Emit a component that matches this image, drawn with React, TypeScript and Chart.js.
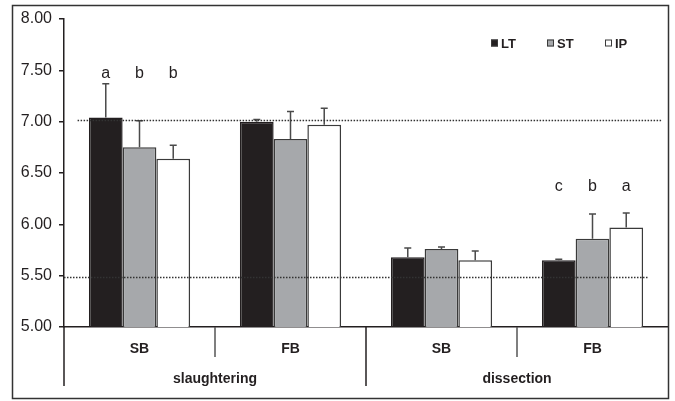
import React, { useEffect, useRef } from 'react';
import { Chart, registerables } from 'chart.js';

Chart.register(...registerables);

// ---- data ----
const categories = ['SB', 'FB', 'SB', 'FB'];
const groupLabels = ['slaughtering', 'dissection'];
const groupOf = [0, 0, 1, 1];
const seriesNames = ['LT', 'ST', 'IP'];
const ltValues = [7.04, 7.0, 5.68, 5.65];
const stValues = [6.75, 6.83, 5.76, 5.86];
const ipValues = [6.64, 6.97, 5.65, 5.97];
const ltErrors = [0.33, 0.02, 0.09, 0.01];
const stErrors = [0.26, 0.27, 0.02, 0.24];
const ipErrors = [0.13, 0.16, 0.09, 0.14];
const ltLetters = ['a', '', '', 'c'];
const stLetters = ['b', '', '', 'b'];
const ipLetters = ['b', '', '', 'a'];
const letterLevels = [7.43, null, null, 6.32];
const refLineValues = [7.02, 5.49];
const refLineFrom = [-0.41, -0.5];
const refLineTo = [3.46, 3.37];
const yTickMin = 5;
const yTickMax = 8;
const yTickStep = 0.5;

const FONT = "'Liberation Sans', Arial, Helvetica, sans-serif";
const INK = '#231f20';
const LINE = '#3a3a3a';

const errorsBySeries = [ltErrors, stErrors, ipErrors];
const lettersBySeries = [ltLetters, stLetters, ipLetters];

const decorPlugin = {
  id: 'decor',
  afterDatasetsDraw(chart: any) {
    const { ctx } = chart;
    const xs = chart.scales.x;
    const ys = chart.scales.y;
    ctx.save();
    // error bars
    chart.data.datasets.forEach((ds: any, d: number) => {
      const meta = chart.getDatasetMeta(d);
      meta.data.forEach((bar: any, i: number) => {
        const v = ds.data[i];
        const e = errorsBySeries[d][i];
        const y0 = ys.getPixelForValue(v);
        const y1 = ys.getPixelForValue(v + e);
        ctx.strokeStyle = '#4a4a4a';
        ctx.lineWidth = 1.5;
        ctx.beginPath();
        ctx.moveTo(bar.x, y0);
        ctx.lineTo(bar.x, y1);
        ctx.moveTo(bar.x - 3.5, y1);
        ctx.lineTo(bar.x + 3.5, y1);
        ctx.stroke();
      });
    });
    // dotted reference lines
    ctx.strokeStyle = '#333';
    ctx.lineWidth = 1.5;
    ctx.setLineDash([1.5, 1.5]);
    refLineValues.forEach((v, k) => {
      const y = Math.round(ys.getPixelForValue(v)) + 0.5;
      ctx.beginPath();
      ctx.moveTo(xs.getPixelForValue(refLineFrom[k]), y);
      ctx.lineTo(xs.getPixelForValue(refLineTo[k]), y);
      ctx.stroke();
    });
    ctx.setLineDash([]);
    // significance letters
    ctx.fillStyle = INK;
    ctx.font = `16px ${FONT}`;
    ctx.textAlign = 'center';
    ctx.textBaseline = 'alphabetic';
    chart.data.datasets.forEach((ds: any, d: number) => {
      const meta = chart.getDatasetMeta(d);
      meta.data.forEach((bar: any, i: number) => {
        const t = lettersBySeries[d][i];
        const lv = letterLevels[i];
        if (!t || lv == null) return;
        ctx.fillText(t, bar.x, ys.getPixelForValue(lv));
      });
    });
    ctx.restore();
  },
  afterDraw(chart: any) {
    const { ctx, chartArea } = chart;
    const xs = chart.scales.x;
    ctx.save();
    ctx.strokeStyle = INK;
    ctx.lineWidth = 1.5;
    const bottom = chartArea.bottom;
    // left axis extension
    ctx.beginPath();
    ctx.moveTo(chartArea.left, bottom);
    ctx.lineTo(chartArea.left, bottom + 59);
    ctx.stroke();
    // category dividers
    for (let i = 0; i < categories.length - 1; i++) {
      const x = xs.getPixelForValue(i + 0.5);
      const long = groupOf[i] !== groupOf[i + 1];
      ctx.strokeStyle = long ? INK : '#555';
      ctx.beginPath();
      ctx.moveTo(x, bottom);
      ctx.lineTo(x, bottom + (long ? 59 : 30));
      ctx.stroke();
    }
    // group labels
    ctx.fillStyle = INK;
    ctx.font = `bold 14px ${FONT}`;
    ctx.textAlign = 'center';
    ctx.textBaseline = 'middle';
    groupLabels.forEach((g, k) => {
      const idx = groupOf.map((gg, i) => (gg === k ? i : -1)).filter((i) => i >= 0);
      const cx = (xs.getPixelForValue(idx[0]) + xs.getPixelForValue(idx[idx.length - 1])) / 2;
      ctx.fillText(g, cx, bottom + 52);
    });
    // legend
    const legendX = [491, 547, 605];
    const ly = 43;
    ctx.font = `bold 13px ${FONT}`;
    ctx.textAlign = 'left';
    chart.data.datasets.forEach((ds: any, d: number) => {
      const x = legendX[d];
      ctx.fillStyle = ds.backgroundColor;
      ctx.fillRect(x, ly - 3.5, 7, 7);
      ctx.strokeStyle = LINE;
      ctx.lineWidth = 1;
      ctx.strokeRect(x + 0.5, ly - 3.5 + 0.5, 6, 6);
      ctx.fillStyle = INK;
      ctx.fillText(ds.label, x + 10, ly + 1);
    });
    // outer frame
    ctx.strokeStyle = '#333';
    ctx.lineWidth = 1.5;
    ctx.strokeRect(12.5, 5.5, 656, 393);
    ctx.restore();
  },
};

export default function App() {
  const ref = useRef<HTMLCanvasElement | null>(null);
  useEffect(() => {
    if (!ref.current) return;
    const chart = new Chart(ref.current, {
      type: 'bar',
      data: {
        labels: categories,
        datasets: [
          { label: seriesNames[0], data: ltValues, backgroundColor: '#231f20', borderColor: '#231f20', borderWidth: 1.5 },
          { label: seriesNames[1], data: stValues, backgroundColor: '#a6a8ab', borderColor: LINE, borderWidth: 1.5 },
          { label: seriesNames[2], data: ipValues, backgroundColor: '#ffffff', borderColor: LINE, borderWidth: 1.5 },
        ],
      },
      options: {
        responsive: false,
        animation: false,
        events: [],
        layout: { padding: { left: 0, top: 19, right: 7, bottom: 0 } },
        datasets: { bar: { categoryPercentage: 0.67, barPercentage: 1 } },
        plugins: { legend: { display: false }, tooltip: { enabled: false }, title: { display: false } },
        scales: {
          x: {
            grid: { display: true, drawOnChartArea: false, drawTicks: false },
            border: { color: INK, width: 1.5 },
            ticks: { font: { family: FONT, size: 14, weight: 'bold' }, color: INK, padding: 14 },
            afterFit: (s: any) => { s.height = 74; },
          },
          y: {
            min: yTickMin,
            max: yTickMax,
            ticks: {
              stepSize: yTickStep,
              callback: (v: any) => Number(v).toFixed(2),
              font: { family: FONT, size: 16 },
              color: INK,
              padding: 7,
            },
            grid: { drawOnChartArea: false, drawTicks: true, tickLength: 5, color: INK, lineWidth: 1.5 },
            border: { color: INK, width: 1.5 },
            afterFit: (s: any) => { s.width = 64; },
          },
        },
      },
      plugins: [decorPlugin],
    } as any);
    return () => chart.destroy();
  }, []);
  return (
    <div style={{ position: 'absolute', left: 0, top: 0, width: 675, height: 401, background: '#fff' }}>
      <canvas ref={ref} width={675} height={401} style={{ display: 'block' }} />
    </div>
  );
}
